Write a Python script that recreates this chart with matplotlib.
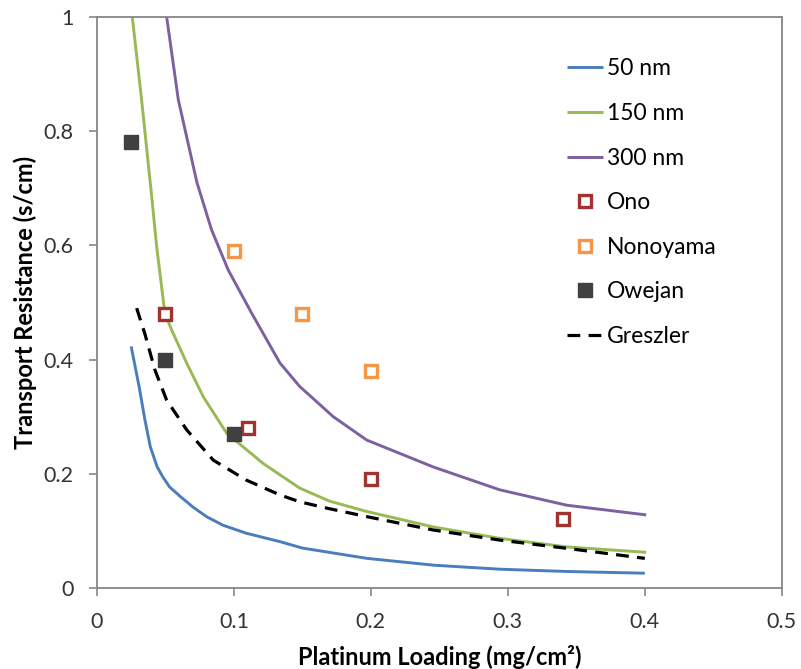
import matplotlib.pyplot as plt

plt.rcParams['font.family'] = ['Lato', 'DejaVu Sans']

# model curves: platinum loading (mg/cm2) vs transport resistance (s/cm)
x_50 = [0.025, 0.031, 0.035, 0.039, 0.044, 0.048, 0.053, 0.061, 0.07, 0.08, 0.092, 0.109,
        0.134, 0.15, 0.197, 0.246, 0.294, 0.343, 0.4]
r_50 = [0.423, 0.35, 0.295, 0.247, 0.212, 0.195, 0.177, 0.16, 0.142, 0.125, 0.11, 0.096,
        0.081, 0.07, 0.052, 0.04, 0.033, 0.029, 0.026]

x_150 = [0.0258, 0.0326, 0.040, 0.0436, 0.0496, 0.0545, 0.0655, 0.0776, 0.0947, 0.1214,
         0.148, 0.170, 0.197, 0.2455, 0.294, 0.343, 0.401]
r_150 = [1.0, 0.855, 0.685, 0.598, 0.481, 0.452, 0.394, 0.335, 0.271, 0.218,
         0.175, 0.152, 0.134, 0.107, 0.087, 0.072, 0.0625]

x_300 = [0.0509, 0.0594, 0.073, 0.0837, 0.0958, 0.113, 0.1336, 0.148, 0.1725, 0.197,
         0.2455, 0.294, 0.343, 0.401]
r_300 = [1.0, 0.855, 0.71, 0.627, 0.557, 0.481, 0.394, 0.353, 0.300, 0.259,
         0.212, 0.172, 0.145, 0.128]

x_gr = [0.029, 0.035, 0.0423, 0.0509, 0.0655, 0.0849, 0.109, 0.1336, 0.148, 0.1676,
        0.197, 0.2455, 0.294, 0.343, 0.4]
r_gr = [0.49, 0.445, 0.382, 0.329, 0.277, 0.224, 0.189, 0.163, 0.151, 0.140,
        0.125, 0.1016, 0.084, 0.0695, 0.052]

# measured data
ono_x = [0.05, 0.11, 0.2, 0.34]
ono_y = [0.48, 0.28, 0.19, 0.12]
nono_x = [0.1, 0.15, 0.2]
nono_y = [0.59, 0.48, 0.38]
owe_x = [0.025, 0.05, 0.1]
owe_y = [0.78, 0.40, 0.27]

fig = plt.figure(figsize=(8.01, 6.69), dpi=100)
ax = fig.add_axes([0.121, 0.121, 0.855, 0.854])

line_kw = dict(lw=2.1, solid_joinstyle='round', solid_capstyle='butt')
ax.plot(x_50, r_50, color='#4A7EBB', label='50 nm', **line_kw)
ax.plot(x_150, r_150, color='#98B954', label='150 nm', **line_kw)
ax.plot(x_300, r_300, color='#7D60A0', label='300 nm', **line_kw)
ax.plot(ono_x, ono_y, ls='none', marker='s', ms=8.5, mfc='white', mec='#A0332F', mew=2.4, label='Ono')
ax.plot(nono_x, nono_y, ls='none', marker='s', ms=8.5, mfc='white', mec='#F79646', mew=2.4, label='Nonoyama')
ax.plot(owe_x, owe_y, ls='none', marker='s', ms=9.5, color='#404040', label='Owejan')
ax.plot(x_gr, r_gr, color='black', lw=2.3, ls=(0, (4, 2.6)), label='Greszler')

ax.set_xlim(0, 0.5)
ax.set_ylim(0, 1)
ax.set_xticks([0, 0.1, 0.2, 0.3, 0.4, 0.5])
ax.set_xticklabels(['0', '0.1', '0.2', '0.3', '0.4', '0.5'])
ax.set_yticks([0, 0.2, 0.4, 0.6, 0.8, 1])
ax.set_yticklabels(['0', '0.2', '0.4', '0.6', '0.8', '1'])

for s in ax.spines.values():
    s.set_color('#868686')
    s.set_linewidth(1.3)
ax.tick_params(direction='out', length=6, width=1.2, color='#868686',
               labelsize=15.5, labelcolor='#333333', pad=11)

ax.set_xlabel('Platinum Loading (mg/cm²)', fontsize=17, fontweight='bold', va='top')
ax.set_ylabel('Transport Resistance (s/cm)', fontsize=17, fontweight='bold')
ax.xaxis.set_label_coords(0.5, -0.100)
ax.yaxis.set_label_coords(-0.088, 0.5)

ax.legend(loc='upper left', bbox_to_anchor=(0.686, 0.927), frameon=False, fontsize=16.5,
          borderpad=0, borderaxespad=0, handlelength=1.6, handletextpad=0.17,
          labelspacing=1.03)

fig.savefig('out.png', dpi=100)
